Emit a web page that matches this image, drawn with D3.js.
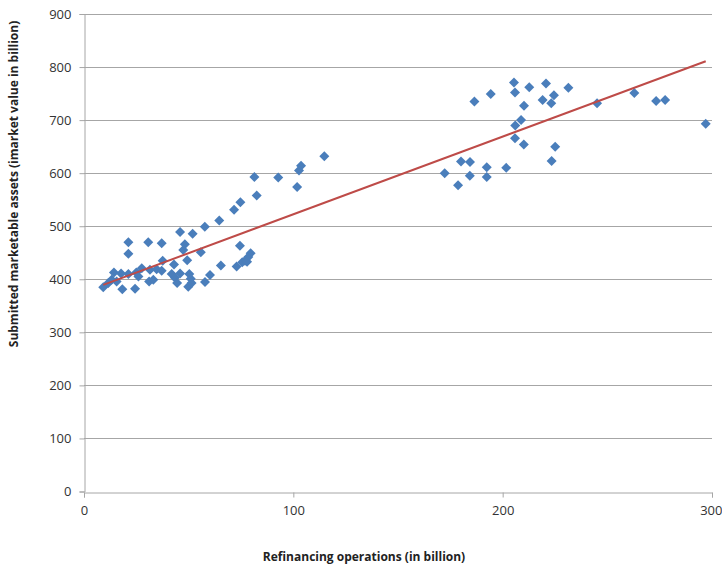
<!DOCTYPE html>
<html>
<head>
<meta charset="utf-8">
<script src="https://cdn.jsdelivr.net/npm/d3@7"></script>
<style>
  html, body { margin: 0; padding: 0; background: #fff; }
  svg text { font-family: "Open Sans", "Lato", "Liberation Sans", sans-serif; }
</style>
</head>
<body>
<svg id="chart" width="722" height="570"></svg>
<script>
// Refinancing operations (billion)
const refinancing = [
  9.2, 11.6, 13.2, 14.3, 15.6, 17.7, 18.3, 21.2, 21.2, 21.2,
  24.4, 25.0, 26.0, 27.6, 30.7, 31.1, 31.5, 33.1, 34.7, 37.1,
  37.6, 37.1, 41.9, 43.0, 43.4, 44.5, 45.9, 45.9, 47.4, 48.2,
  49.3, 50.3, 49.8, 51.0, 51.4, 51.9, 55.8, 57.7, 57.8, 60.2,
  64.6, 65.4, 71.7, 72.9, 74.7, 74.5, 75.6, 76.9, 78.5, 79.6,
  77.9, 81.4, 82.5, 92.8, 101.8, 102.7, 103.7, 114.8,
  172.3, 178.7, 180.1, 184.4, 184.3, 186.5, 192.4, 192.4, 194.3, 201.7,
  205.4, 205.9, 206.0, 205.9, 208.8, 210.2, 210.1, 212.7, 219.1, 220.7,
  223.2, 224.5, 223.4, 225.1, 231.4, 245.1, 262.9, 273.3, 277.6, 297.0
];
// Submitted marketable assets (market value, billion)
const assets = [
  385, 393, 399, 413, 396, 411, 381, 470, 448, 410,
  382, 413, 405, 421, 470, 396, 418, 399, 419, 468,
  435, 416, 410, 428, 403, 393, 489, 411, 455, 466,
  436, 410, 386, 401, 393, 486, 451, 499, 395, 408,
  511, 426, 531, 424, 545, 463, 432, 435, 442, 449,
  433, 593, 558, 592, 574, 605, 614, 632,
  600, 577, 622, 621, 595, 735, 611, 593, 749, 610,
  771, 752, 690, 666, 700, 727, 654, 762, 738, 769,
  732, 747, 623, 650, 761, 732, 751, 736, 738, 693
];
const xTicks = [0, 100, 200, 300];
const yTicks = [0, 100, 200, 300, 400, 500, 600, 700, 800, 900];

const svg = d3.select("#chart");
const plotLeft = 84, plotRight = 712, plotTop = 14, plotBottom = 491.5;

const x = d3.scaleLinear().domain([0, 300]).range([plotLeft, plotRight]);
const y = d3.scaleLinear().domain([0, 900]).range([plotBottom, plotTop]);

// horizontal gridlines
svg.append("g")
  .selectAll("line")
  .data(yTicks.filter(d => d > 0))
  .join("line")
  .attr("x1", plotLeft).attr("x2", plotRight)
  .attr("y1", d => Math.round(y(d)) + 0.5).attr("y2", d => Math.round(y(d)) + 0.5)
  .attr("stroke", "#a6a6a6").attr("stroke-width", 1);

// y axis
const yAxis = svg.append("g")
  .attr("transform", `translate(${plotLeft + 0.5},0)`)
  .call(d3.axisLeft(y).tickValues(yTicks).tickSize(5).tickPadding(8));
yAxis.select(".domain").attr("stroke", "#a6a6a6");
yAxis.selectAll(".tick line").attr("stroke", "#a6a6a6");
yAxis.selectAll("text").attr("font-size", 13).attr("fill", "#333");

// x axis
const xAxis = svg.append("g")
  .attr("transform", `translate(0,${Math.round(plotBottom) + 0.5})`)
  .call(d3.axisBottom(x).tickValues(xTicks).tickSize(5).tickPadding(8));
xAxis.select(".domain").attr("stroke", "#a6a6a6");
xAxis.selectAll(".tick line").attr("stroke", "#a6a6a6");
xAxis.selectAll("text").attr("font-size", 13).attr("fill", "#333");
// keep the last tick label inside the canvas
xAxis.selectAll(".tick text").filter(d => d === xTicks[xTicks.length - 1])
  .attr("text-anchor", "end").attr("dx", "10");

// linear least-squares trend line over the observed range
const pts = refinancing.map((v, i) => [v, assets[i]]);
const mx = d3.mean(pts, d => d[0]), my = d3.mean(pts, d => d[1]);
const slope = d3.sum(pts, d => (d[0] - mx) * (d[1] - my)) / d3.sum(pts, d => (d[0] - mx) ** 2);
const intercept = my - slope * mx;

// diamond markers (square rotated 45°)
const diamond = d3.symbol().type(d3.symbolSquare).size(50);
svg.append("g")
  .selectAll("path")
  .data(pts)
  .join("path")
  .attr("d", diamond)
  .attr("transform", d => `translate(${x(d[0])},${y(d[1])}) rotate(45)`)
  .attr("fill", "#4a7ebb");

const [xmin, xmax] = d3.extent(refinancing);
svg.append("line")
  .attr("x1", x(xmin)).attr("y1", y(intercept + slope * xmin))
  .attr("x2", x(xmax)).attr("y2", y(intercept + slope * xmax))
  .attr("stroke", "#be4b48").attr("stroke-width", 2);

// axis titles
svg.append("text")
  .attr("x", 364).attr("y", 561)
  .attr("text-anchor", "middle")
  .attr("font-size", 12).attr("font-weight", "bold").attr("fill", "#222")
  .text("Refinancing operations (in billion)");

svg.append("text")
  .attr("transform", "translate(18,184) rotate(-90)")
  .attr("text-anchor", "middle")
  .attr("font-size", 12).attr("font-weight", "bold").attr("fill", "#222")
  .text("Submitted marketable assets (imarket value in billion)");
</script>
</body>
</html>
